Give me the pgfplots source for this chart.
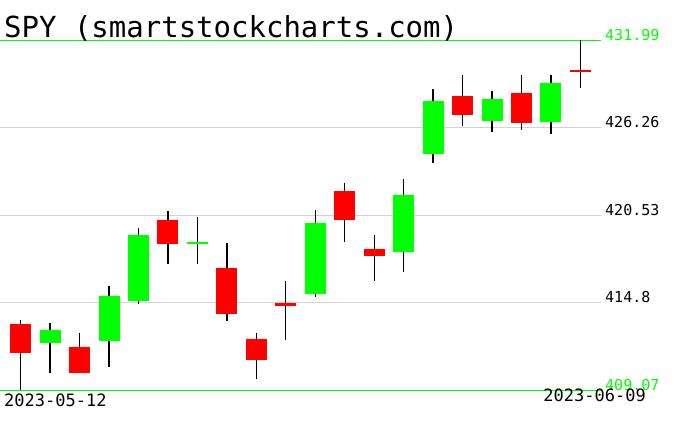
\documentclass[border=0pt]{standalone}
\usepackage{pgfplots}
\pgfplotsset{compat=1.18}
\usepackage{pgfplotstable}
\usetikzlibrary{calc}
\usepackage{fontspec}
\newfontfamily\chartfont{DejaVu Sans Mono}
\definecolor{upgreen}{RGB}{0,255,0}
\definecolor{downred}{RGB}{255,0,0}
\definecolor{gridgray}{RGB}{211,211,211}

% daily candles, i = trading day index (0 = 2023-05-12)
\pgfplotstableread{
i  o      h      l      c
0  413.42 413.69 409.07 411.54
2  411.91 412.83 410.20 410.23
5  420.25 420.79 417.31 418.63
7  417.10 418.74 413.64 414.08
8  412.44 412.83 409.83 411.08
9  414.80 416.20 412.39 414.62
11 422.09 422.66 418.76 420.20
12 418.34 419.26 416.20 417.84
15 428.32 429.70 426.37 427.09
17 428.52 429.70 426.11 426.57
19 430.05 431.99 428.87 429.92
}\downdays

\pgfplotstableread{
i  o      h      l      c
1  412.19 413.47 410.23 413.03
3  412.31 415.92 410.62 415.26
4  414.89 419.72 414.69 419.26
6  418.63 420.45 417.31 418.80
10 415.35 420.86 415.21 420.05
13 418.10 422.92 416.79 421.89
14 424.53 428.78 423.97 427.99
16 426.70 428.65 425.98 428.12
18 426.63 429.70 425.85 429.17
}\updays

\begin{document}
\begin{tikzpicture}[x=1pt,y=1pt]
\begin{axis}[
    scale only axis, width=601pt, height=350pt,
    xmin=-0.70, xmax=19.70,
    ymin=409.07, ymax=431.99,
    clip=false,
    axis line style={draw=none},
    xtick=\empty,
    ytick={414.8,420.53,426.26},
    yticklabels={414.8,420.53,426.26},
    extra y ticks={409.07,431.99},
    extra y tick labels={409.07,431.99},
    extra y tick style={ymajorgrids=true, major grid style={upgreen,line width=1pt}, yticklabel style={text=upgreen}},
    ymajorgrids=true,
    major grid style={gridgray,line width=1pt},
    major tick length=0pt,
    yticklabel pos=right,
    yticklabel style={anchor=base west, inner sep=0pt, xshift=4pt, font=\chartfont\fontsize{15}{15}\selectfont},
]
% wicks
\addplot[no markers, draw=none, error bars/.cd, y dir=plus, y explicit, error mark=none,
    error bar style={draw=black, line width=1.3pt}]
    table[x=i, y=l, y error plus expr=\thisrow{h}-\thisrow{l}] {\downdays};
\addplot[no markers, draw=none, error bars/.cd, y dir=plus, y explicit, error mark=none,
    error bar style={draw=black, line width=1.3pt}]
    table[x=i, y=l, y error plus expr=\thisrow{h}-\thisrow{l}] {\updays};
% bodies
\addplot[no markers, draw=none, error bars/.cd, y dir=plus, y explicit, error mark=none,
    error bar style={draw=downred, line width=21pt}]
    table[x=i, y=c, y error plus expr=\thisrow{o}-\thisrow{c}] {\downdays};
\addplot[no markers, draw=none, error bars/.cd, y dir=plus, y explicit, error mark=none,
    error bar style={draw=upgreen, line width=21pt}]
    table[x=i, y=o, y error plus expr=\thisrow{c}-\thisrow{o}] {\updays};
\end{axis}
\coordinate (O) at (current axis.south west);
\node[anchor=base west, inner sep=0pt, font=\chartfont\fontsize{29}{29}\selectfont] at ($(O)+(4,352.6)$) {SPY (smartstockcharts.com)};
\node[anchor=base west, inner sep=0pt, font=\chartfont\fontsize{17}{17}\selectfont] at ($(O)+(4,-15.7)$) {2023-05-12};
\node[anchor=base east, inner sep=0pt, font=\chartfont\fontsize{17}{17}\selectfont] at ($(O)+(646,-10.7)$) {2023-06-09};
\pgfresetboundingbox
\path[use as bounding box] ($(O)+(0,-40.7)$) rectangle ($(O)+(676,390.3)$);
\end{tikzpicture}
\end{document}
